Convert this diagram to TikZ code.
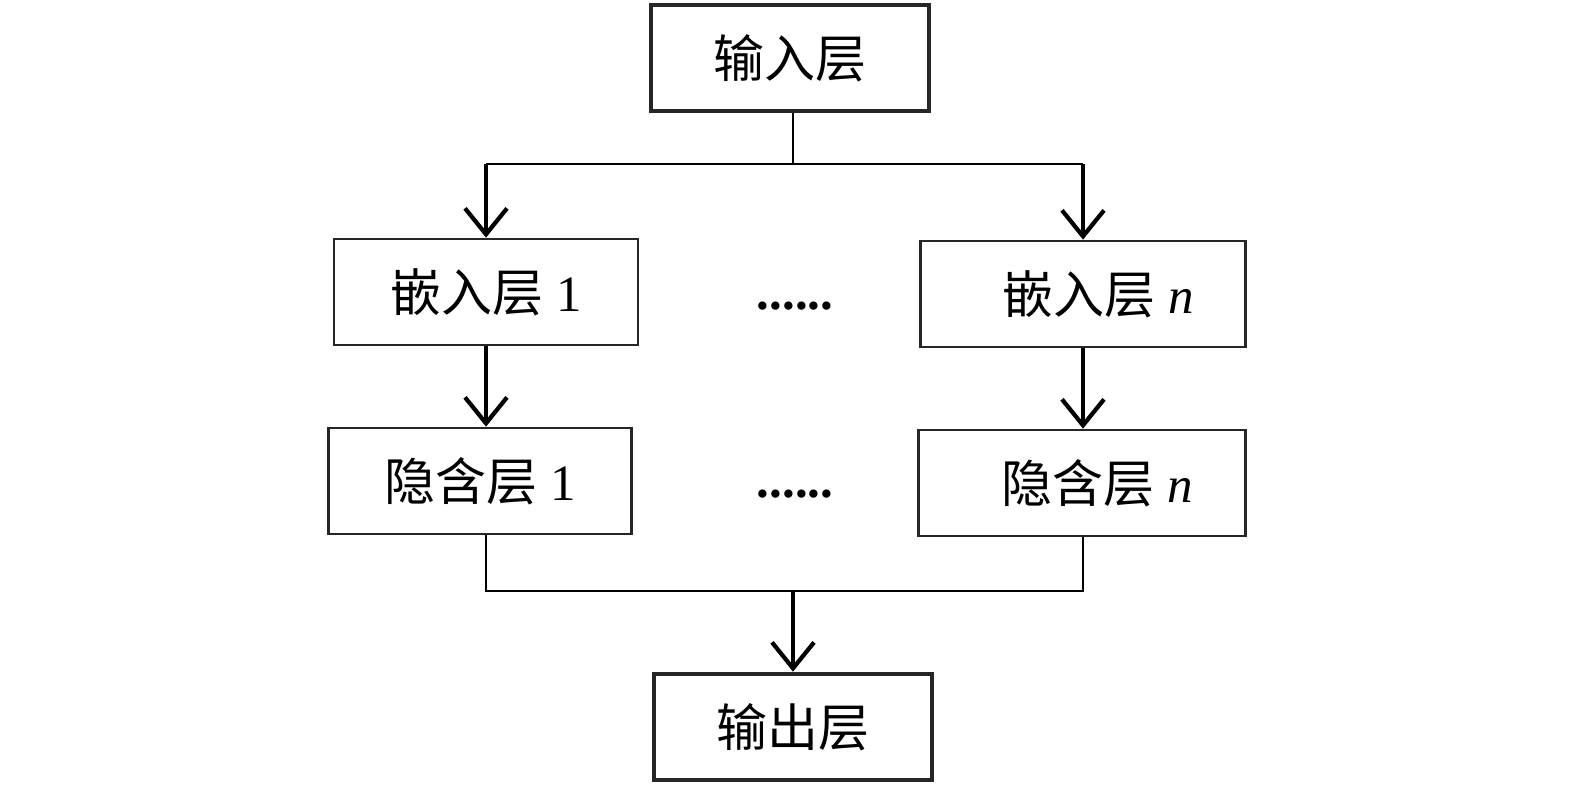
\documentclass[tikz,border=0pt]{standalone}
\usepackage{fontspec}
\setmainfont{Liberation Serif}
\newfontfamily\cjk{Noto Sans CJK SC}
\usetikzlibrary{arrows.meta,positioning,calc}
\tikzset{%
  box/.style={draw=black!85,line width=0.75pt,align=center,inner sep=0pt},
  iobox/.style={box,line width=1.3pt,minimum width=27.8mm,minimum height=10.6mm},
  layer/.style={box,minimum height=10.6mm},
  arrow/.style={-{Straight Barb[length=2.6mm,width=4.2mm,line width=1.2pt]}, line width=1.1pt},
  link/.style={line width=0.75pt}%
}

\begin{document}
\begin{tikzpicture}[
    x=0.1mm, y=-0.1mm,
    font=\fontsize{14.5}{17}\selectfont
]
\useasboundingbox (0,0) rectangle (1575,797);

% Input and output
\node[iobox] (in) at (790,58) {\cjk 输入层};
\node[iobox] (out) at (793,727) {\cjk 输出层};

% Embedding layers
\node[layer, minimum width=30.4mm] (emb1) at (486,292) {{\cjk 嵌入层}\ 1};
\node[layer, minimum width=32.5mm] (embn) at (1083,294) {\hspace*{3mm}{\cjk 嵌入层}\ \textit{n}};
\node (dots1) at (795,306) {\bfseries ......};

% Hidden layers
\node[layer, minimum width=30.3mm] (hid1) at (480,481) {{\cjk 隐含层}\ 1};
\node[layer, minimum width=32.7mm] (hidn) at (1082,483) {\hspace*{3mm}{\cjk 隐含层}\ \textit{n}};
\node (dotsh) at (795,494) {\bfseries ......};

% Split from input
\coordinate (split) at (793,164);
\draw[link] (in.south -| split) -- (split);
\draw[link] (emb1 |- split) -- (embn |- split);
\draw[arrow] (emb1 |- split) -- (emb1.north);
\draw[arrow] (embn |- split) -- (embn.north);

\draw[arrow] (emb1) -- (emb1 |- hid1.north);
\draw[arrow] (embn) -- (embn |- hidn.north);

% Merge into output
\coordinate (merge) at (793,591);
\draw[link] (hid1.south -| emb1) |- (merge) -| (hidn.south -| embn);
\draw[arrow] (merge) -- (out.north);

\end{tikzpicture}
\end{document}
